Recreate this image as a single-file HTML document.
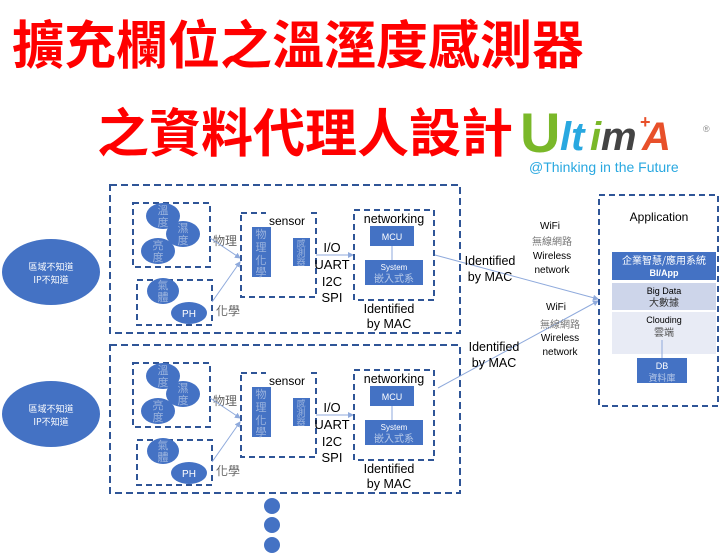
<!DOCTYPE html>
<html><head><meta charset="utf-8"><style>
body{margin:0;background:#fff;width:720px;height:554px;overflow:hidden}
svg{display:block}
text{font-family:"Liberation Sans","Noto Sans CJK TC",sans-serif}
.cjk{font-family:"Noto Sans CJK TC","Liberation Sans",sans-serif}
</style></head><body>
<svg width="720" height="554" viewBox="0 0 720 554" xmlns="http://www.w3.org/2000/svg">
<defs>
<marker id="ar" markerWidth="6" markerHeight="6" refX="5" refY="3" orient="auto"><path d="M0,0 L6,3 L0,6z" fill="#8faadc"/></marker>
<g id="blk">
  <rect x="110" y="185" width="350" height="148" fill="none" stroke="#2f5597" stroke-width="2" stroke-dasharray="7,4"/>
  <rect x="133" y="203" width="77" height="64" fill="none" stroke="#2f5597" stroke-width="2" stroke-dasharray="6,4"/>
  <rect x="137" y="280" width="75" height="45" fill="none" stroke="#2f5597" stroke-width="2" stroke-dasharray="6,4"/>
  <ellipse cx="163" cy="216" rx="17" ry="13" fill="#4472c4"/>
  <ellipse cx="183" cy="234" rx="17" ry="13" fill="#4472c4"/>
  <ellipse cx="158" cy="251" rx="17" ry="13" fill="#4472c4"/>
  <ellipse cx="163" cy="291" rx="16" ry="13" fill="#4472c4"/>
  <ellipse cx="189" cy="313" rx="18" ry="11" fill="#4472c4"/>
  <g class="cjk" fill="#9bb3dd" font-size="11" text-anchor="middle">
   <text x="163" y="214">溫</text><text x="163" y="226">度</text>
   <text x="183" y="232">濕</text><text x="183" y="244">度</text>
   <text x="158" y="249">亮</text><text x="158" y="261">度</text>
   <text x="163" y="289">氣</text><text x="163" y="301">體</text>
  </g>
  <text x="189" y="317" fill="#fff" font-size="10" text-anchor="middle">PH</text>
  <text x="213" y="245" class="cjk" fill="#666" font-size="12">物理</text>
  <text x="216" y="315" class="cjk" fill="#666" font-size="12">化學</text>
  <line x1="210" y1="238" x2="240" y2="258" stroke="#8faadc" marker-end="url(#ar)"/>
  <line x1="212" y1="302" x2="240" y2="262" stroke="#8faadc" marker-end="url(#ar)"/>
  <rect x="241" y="213" width="75" height="84" fill="none" stroke="#2f5597" stroke-width="2" stroke-dasharray="6,4"/>
  <rect x="266" y="210" width="42" height="8" fill="#fff"/>
  <text x="287" y="225" font-size="12" fill="#000" text-anchor="middle">sensor</text>
  <rect x="252" y="227" width="19" height="50" fill="#4472c4"/>
  <g class="cjk" fill="#9bb3dd" font-size="11" text-anchor="middle">
   <text x="261" y="238">物</text><text x="261" y="251">理</text><text x="261" y="264">化</text><text x="261" y="276">學</text>
  </g>
  <rect x="293" y="238" width="17" height="28" fill="#4472c4"/>
  <g class="cjk" fill="#9bb3dd" font-size="9" text-anchor="middle">
   <text x="301" y="247">感</text><text x="301" y="256">測</text><text x="301" y="265">器</text>
  </g>
  <g font-size="13" fill="#000" text-anchor="middle">
   <text x="332" y="252">I/O</text><text x="332" y="269">UART</text><text x="332" y="286">I2C</text><text x="332" y="302">SPI</text>
  </g>
  <line x1="316" y1="255" x2="353" y2="255" stroke="#8faadc" marker-end="url(#ar)"/>
  <rect x="354" y="210" width="80" height="90" fill="none" stroke="#2f5597" stroke-width="2" stroke-dasharray="6,4"/>
  <text x="394" y="223" font-size="12.5" fill="#000" text-anchor="middle">networking</text>
  <rect x="370" y="226" width="44" height="20" fill="#4472c4"/>
  <text x="392" y="240" font-size="9" fill="#fff" text-anchor="middle">MCU</text>
  <line x1="392" y1="246" x2="392" y2="260" stroke="#8faadc"/>
  <rect x="365" y="260" width="58" height="25" fill="#4472c4"/>
  <text x="394" y="270" font-size="8" fill="#fff" text-anchor="middle">System</text>
  <text x="394" y="282" class="cjk" font-size="10" fill="#b4c7e7" text-anchor="middle">嵌入式系</text>
  <text x="389" y="313" font-size="12.5" fill="#000" text-anchor="middle">Identified</text>
  <text x="389" y="328" font-size="12.5" fill="#000" text-anchor="middle">by MAC</text>
</g>
</defs>
<text x="12" y="64" fill="#ff0000" font-size="52" class="cjk" font-weight="bold">擴充欄位之溫溼度感測器</text>
<text x="97" y="152" fill="#ff0000" font-size="52" class="cjk" font-weight="bold">之資料代理人設計</text>
<text x="520" y="152" font-size="56" font-weight="bold" font-family="Liberation Serif,serif" fill="#7ab829">U</text>
<text x="560" y="150" font-size="40" font-style="italic" font-weight="bold" fill="#29a8e0">lt</text>
<text x="590" y="150" font-size="40" font-style="italic" font-weight="bold" fill="#7ab829">i</text>
<text x="601" y="150" font-size="40" font-style="italic" font-weight="bold" fill="#444">m</text>
<text x="642" y="150" font-size="40" font-style="italic" font-weight="bold" fill="#e8502a">A</text>
<text x="640" y="128" font-size="18" font-weight="bold" fill="#e8502a">+</text>
<text x="703" y="132" font-size="9" fill="#888">®</text>
<text x="529" y="172" font-size="14" fill="#29a8e0">@Thinking in the Future</text>

<ellipse cx="51" cy="272" rx="49" ry="33" fill="#4472c4"/>
<text x="51" y="270" class="cjk" font-size="9" fill="#fff" text-anchor="middle">區域不知道</text>
<text x="51" y="283" class="cjk" font-size="9" fill="#fff" text-anchor="middle">IP不知道</text>
<ellipse cx="51" cy="414" rx="49" ry="33" fill="#4472c4"/>
<text x="51" y="412" class="cjk" font-size="9" fill="#fff" text-anchor="middle">區域不知道</text>
<text x="51" y="425" class="cjk" font-size="9" fill="#fff" text-anchor="middle">IP不知道</text>

<use href="#blk"/>
<use href="#blk" transform="translate(0,160)"/>

<line x1="435" y1="255" x2="598" y2="299" stroke="#8faadc" marker-end="url(#ar)"/>
<line x1="438" y1="388" x2="598" y2="301" stroke="#8faadc" marker-end="url(#ar)"/>
<g font-size="12.5" fill="#000" text-anchor="middle">
<text x="490" y="265">Identified</text><text x="490" y="281">by MAC</text>
<text x="494" y="351">Identified</text><text x="494" y="367">by MAC</text>
</g>
<g font-size="10" fill="#000" text-anchor="middle">
<text x="550" y="229">WiFi</text><text x="552" y="245" class="cjk" fill="#777">無線網路</text><text x="552" y="259">Wireless</text><text x="552" y="273">network</text>
<text x="556" y="310">WiFi</text><text x="560" y="328" class="cjk" fill="#777">無線網路</text><text x="560" y="341">Wireless</text><text x="560" y="355">network</text>
</g>
<rect x="599" y="195" width="119" height="211" fill="none" stroke="#2f5597" stroke-width="2" stroke-dasharray="6,4"/>
<text x="659" y="221" font-size="12" fill="#000" text-anchor="middle">Application</text>
<rect x="612" y="252" width="104" height="28" fill="#4472c4"/>
<text x="664" y="264" class="cjk" font-size="10" fill="#fff" text-anchor="middle">企業智慧/應用系統</text>
<text x="664" y="276" font-size="9" font-weight="bold" fill="#fff" text-anchor="middle">BI/App</text>
<rect x="612" y="283" width="104" height="27" fill="#cdd5ea"/>
<text x="664" y="294" font-size="9" fill="#000" text-anchor="middle">Big Data</text>
<text x="664" y="306" class="cjk" font-size="10" fill="#333" text-anchor="middle">大數據</text>
<rect x="612" y="312" width="104" height="42" fill="#e8ebf5"/>
<text x="664" y="323" font-size="9" fill="#000" text-anchor="middle">Clouding</text>
<text x="664" y="336" class="cjk" font-size="10" fill="#555" text-anchor="middle">雲端</text>
<line x1="662" y1="340" x2="662" y2="358" stroke="#8faadc"/>
<rect x="637" y="358" width="50" height="25" fill="#4472c4"/>
<text x="662" y="369" font-size="9" fill="#fff" text-anchor="middle">DB</text>
<text x="662" y="381" class="cjk" font-size="9" fill="#b4c7e7" text-anchor="middle">資料庫</text>

<circle cx="272" cy="506" r="8" fill="#4472c4"/>
<circle cx="272" cy="525" r="8" fill="#4472c4"/>
<circle cx="272" cy="545" r="8" fill="#4472c4"/>
</svg>
</body></html>
